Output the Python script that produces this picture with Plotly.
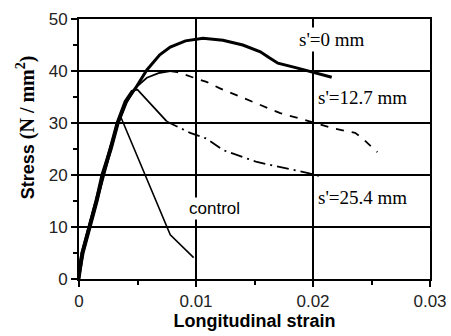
import plotly.graph_objects as go

# ---- data ----
s0_strain = [0.0, 0.0003, 0.0009, 0.0015, 0.00205, 0.0027, 0.0033, 0.0040, 0.0048, 0.0058, 0.0069,
             0.0078, 0.0091, 0.0106, 0.0123, 0.0140, 0.0155, 0.0163, 0.0170, 0.0186, 0.0200, 0.0216]
s0_stress = [0, 5, 10, 15, 20, 25, 30, 34.0, 36.6, 40.2, 43.1,
             44.6, 45.8, 46.3, 45.9, 45.0, 43.7, 42.5, 41.5, 40.6, 39.8, 38.8]

s127_strain = [0.0, 0.0004, 0.001, 0.0016, 0.0021, 0.0028, 0.0034, 0.0041, 0.0048, 0.0058, 0.0068,
               0.0078, 0.0084, 0.0097, 0.0109, 0.0120, 0.0149, 0.0172, 0.0193, 0.0217, 0.0236, 0.0242, 0.0255]
s127_stress = [0, 5, 10, 15, 20, 25, 30, 34.0, 36.7, 38.7, 39.6,
               40.0, 39.8, 38.8, 37.9, 36.7, 34.0, 31.9, 30.6, 29.0, 28.1, 27.1, 24.4]
s127_solid_until = 11  # index of peak: solid before, dashed after

s254_strain = [-0.0002, 0.0002, 0.0008, 0.0014, 0.0020, 0.0026, 0.0032, 0.0039, 0.0045, 0.0050,
               0.0061, 0.0075, 0.0095, 0.0109, 0.0123, 0.0152, 0.0178, 0.0195, 0.0206]
s254_stress = [0, 5, 10, 15, 20, 25, 30, 34.2, 36.2, 36.4,
               33.8, 30.3, 28.1, 27.0, 24.8, 22.5, 21.3, 20.4, 19.8]
s254_solid_until = 11

ctrl_strain = [-0.0001, 0.0002, 0.0008, 0.0014, 0.0019, 0.0026, 0.0033, 0.0036, 0.0058, 0.0078, 0.0098]
ctrl_stress = [0, 5, 10, 15, 20, 25, 30, 31.0, 19.4, 8.5, 4.1]

x_ticks = [0, 0.01, 0.02, 0.03]
x_ticktext = ["0", "0.01", "0.02", "0.03"]
y_ticks = [0, 10, 20, 30, 40, 50]

labels = [("s'=0 mm", 0.0216, 46.1), ("s'=12.7 mm", 0.02427, 35.0), ("s'=25.4 mm", 0.02427, 15.6)]
ctrl_label = ("control", 0.01162, 13.6)

fig = go.Figure()
line_c = "black"

fig.add_trace(go.Scatter(x=ctrl_strain, y=ctrl_stress, mode="lines",
                         line=dict(color=line_c, width=1.6)))
fig.add_trace(go.Scatter(x=s254_strain[:s254_solid_until + 1], y=s254_stress[:s254_solid_until + 1],
                         mode="lines", line=dict(color=line_c, width=1.8)))
fig.add_trace(go.Scatter(x=s254_strain[s254_solid_until:], y=s254_stress[s254_solid_until:],
                         mode="lines", line=dict(color=line_c, width=1.8, dash="12px,5px,2px,5px")))
fig.add_trace(go.Scatter(x=s127_strain[:s127_solid_until + 1], y=s127_stress[:s127_solid_until + 1],
                         mode="lines", line=dict(color=line_c, width=1.8)))
fig.add_trace(go.Scatter(x=s127_strain[s127_solid_until:], y=s127_stress[s127_solid_until:],
                         mode="lines", line=dict(color=line_c, width=1.8, dash="8px,8px")))
fig.add_trace(go.Scatter(x=s0_strain, y=s0_stress, mode="lines",
                         line=dict(color=line_c, width=3)))

for txt, xx, yy in labels:
    fig.add_annotation(x=xx, y=yy, text=txt, showarrow=False, bgcolor="white",
                       font=dict(family="Liberation Serif", size=19, color="black"),
                       xanchor="center", yanchor="middle", borderpad=1)
fig.add_annotation(x=ctrl_label[1], y=ctrl_label[2], text=ctrl_label[0], showarrow=False,
                   bgcolor="white", font=dict(family="Liberation Sans", size=17, color="black"),
                   xanchor="center", yanchor="middle", borderpad=1)

fig.add_annotation(xref="paper", yref="paper", x=-0.15, y=0.585, textangle=-90,
                   text="<b>Stress <span style='font-family:Liberation Serif;font-size:20px'>(N / mm<sup>2</sup>)</span></b>",
                   showarrow=False, xanchor="center", yanchor="middle",
                   font=dict(family="Liberation Sans", size=18, color="black"))

axis_common = dict(showline=True, linecolor="black", linewidth=2, mirror=True,
                   gridcolor="black", gridwidth=1.5, zeroline=False, automargin=False,
                   ticks="outside", tickcolor="black", tickwidth=1.5, ticklen=6,
                   tickfont=dict(family="Liberation Sans", size=17, color="#222"))

fig.update_xaxes(range=[0, 0.03], tickvals=x_ticks, ticktext=x_ticktext,
                 minor=dict(dtick=0.005, tick0=0, ticks="outside", ticklen=4,
                            tickcolor="black", tickwidth=1.5, showgrid=False),
                 title=dict(text="<b>Longitudinal strain</b>", standoff=4,
                            font=dict(family="Liberation Sans", size=18, color="black")),
                 **axis_common)
fig.update_yaxes(range=[0, 50], tickvals=y_ticks,
                 minor=dict(dtick=5, tick0=0, ticks="outside", ticklen=4,
                            tickcolor="black", tickwidth=1.5, showgrid=False),
                 **axis_common)

fig.update_layout(width=451, height=336, margin=dict(l=79, r=21, t=19, b=57),
                  plot_bgcolor="white", paper_bgcolor="white", showlegend=False)

fig.write_html("out.html")
